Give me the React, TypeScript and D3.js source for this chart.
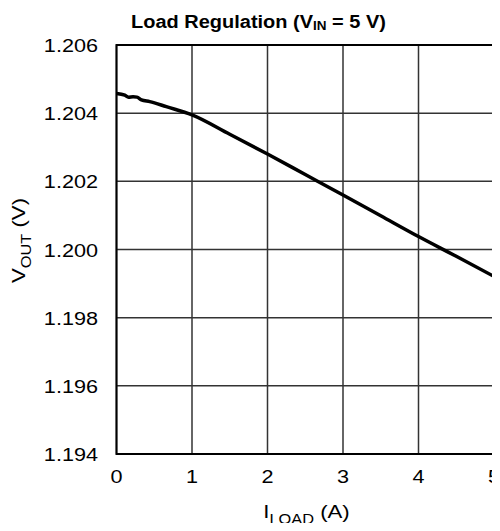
import React, { useEffect, useRef } from 'react';
import * as d3 from 'd3';

const iLoad = [0, 0.11, 0.16, 0.22, 0.27, 0.33, 0.44, 0.66, 1.0, 1.5, 2.0, 2.5, 3.0, 3.5, 4.0, 4.5, 5.0];
const vOut = [1.20458, 1.20453, 1.20447, 1.20448, 1.20447, 1.20439, 1.20434, 1.20419, 1.20395, 1.20338, 1.2028, 1.2022, 1.2016, 1.20099, 1.20038, 1.1998, 1.19921];
const xTicks = [0, 1, 2, 3, 4, 5];
const yTicks = [1.194, 1.196, 1.198, 1.2, 1.202, 1.204, 1.206];

const W = 500;
const H = 531;
const m = { left: 116.5, right: 6, top: 45, bottom: 77 };
const font = 'Arial, "Liberation Sans", Helvetica, sans-serif';
const stretch = 1.17; // reference glyphs are a bit wider than Arial

function LoadChart() {
  const ref = useRef<SVGSVGElement>(null);

  useEffect(() => {
    const svg = d3.select(ref.current);
    svg.selectAll('*').remove();

    const x = d3.scaleLinear().domain([0, 5]).range([m.left, W - m.right]);
    const y = d3.scaleLinear().domain([1.194, 1.206]).range([H - m.bottom, m.top]);

    const g = svg.append('g');

    // grid
    g.selectAll('line.gx')
      .data(xTicks)
      .enter()
      .append('line')
      .attr('x1', d => x(d))
      .attr('x2', d => x(d))
      .attr('y1', y(1.194))
      .attr('y2', y(1.206))
      .attr('stroke', '#333')
      .attr('stroke-width', 1.5);

    g.selectAll('line.gy')
      .data(yTicks)
      .enter()
      .append('line')
      .attr('x1', x(0))
      .attr('x2', x(5))
      .attr('y1', d => y(d))
      .attr('y2', d => y(d))
      .attr('stroke', '#333')
      .attr('stroke-width', 1.5);

    // border
    g.append('rect')
      .attr('x', x(0))
      .attr('y', y(1.206))
      .attr('width', x(5) - x(0))
      .attr('height', y(1.194) - y(1.206))
      .attr('fill', 'none')
      .attr('stroke', '#000')
      .attr('stroke-width', 2);

    // curve
    const line = d3.line<number>()
      .x((d, i) => x(iLoad[i]))
      .y(d => y(d))
      .curve(d3.curveMonotoneX);

    g.append('path')
      .datum(vOut)
      .attr('d', line)
      .attr('fill', 'none')
      .attr('stroke', '#000')
      .attr('stroke-width', 3.5)
      .attr('stroke-linejoin', 'round');

    // tick labels (stretched horizontally like the source)
    g.selectAll('g.yt')
      .data(yTicks)
      .enter()
      .append('g')
      .attr('transform', d => `translate(${x(0) - 18.5},${y(d) + 7}) scale(${stretch},1)`)
      .append('text')
      .attr('text-anchor', 'end')
      .style('font-family', font)
      .style('font-size', '18.5px')
      .text(d => d3.format('.3f')(d));

    g.selectAll('g.xt')
      .data(xTicks)
      .enter()
      .append('g')
      .attr('transform', d => `translate(${x(d)},${y(1.194) + 29}) scale(${stretch},1)`)
      .append('text')
      .attr('text-anchor', 'middle')
      .style('font-family', font)
      .style('font-size', '18.5px')
      .text(d => d);

    // title
    const title = svg.append('g')
      .attr('transform', `translate(258.5,28.3) scale(1.08,1)`)
      .append('text')
      .attr('text-anchor', 'middle')
      .style('font-family', font)
      .style('font-size', '18.5px')
      .style('font-weight', 'bold');
    title.append('tspan').text('Load Regulation (V');
    title.append('tspan').attr('dy', 2).style('font-size', '12.5px').text('IN');
    title.append('tspan').attr('dy', -2).text(' = 5 V)');

    // x label
    const xl = svg.append('g')
      .attr('transform', `translate(306.5,518.3) scale(${stretch},1)`)
      .append('text')
      .attr('text-anchor', 'middle')
      .style('font-family', font)
      .style('font-size', '19px');
    xl.append('tspan').text('I');
    xl.append('tspan').attr('dy', 6).style('font-size', '14px').text('LOAD');
    xl.append('tspan').attr('dy', -6).text(' (A)');

    // y label
    const yl = svg.append('g')
      .attr('transform', `translate(25,240.5) rotate(-90) scale(${stretch},1)`)
      .append('text')
      .attr('text-anchor', 'middle')
      .style('font-family', font)
      .style('font-size', '19px');
    yl.append('tspan').text('V');
    yl.append('tspan').attr('dy', 6).style('font-size', '14px').text('OUT');
    yl.append('tspan').attr('dy', -6).text(' (V)');
  }, []);

  return <svg ref={ref} width={W} height={H} style={{ display: 'block' }} />;
}

export default function App() {
  return (
    <div style={{ margin: -8 }}>
      <LoadChart />
    </div>
  );
}
